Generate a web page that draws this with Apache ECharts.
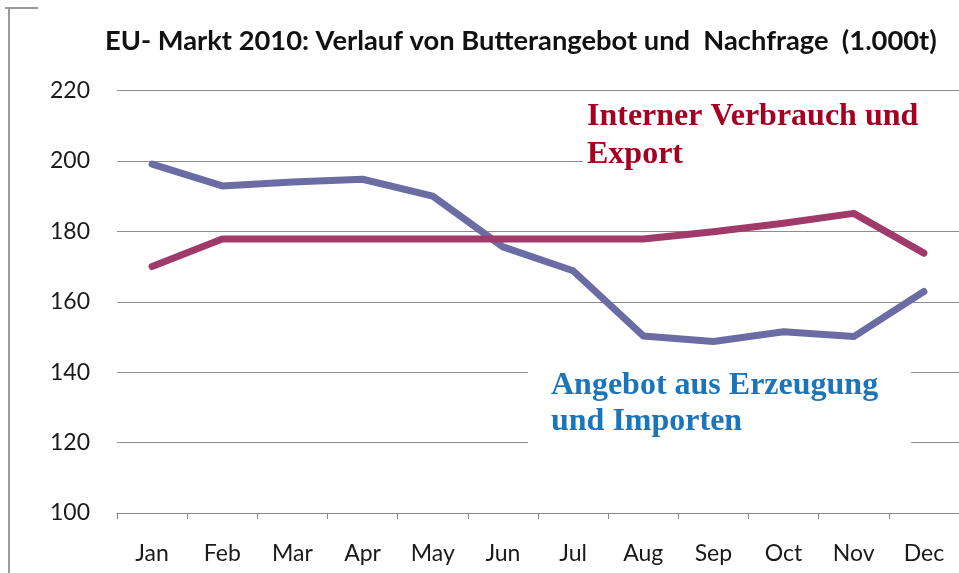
<!DOCTYPE html>
<html>
<head>
<meta charset="utf-8">
<script src="https://cdn.jsdelivr.net/npm/echarts@6/dist/echarts.min.js"></script>
<style>html,body{margin:0;padding:0;background:#fff}#c{width:959px;height:573px}</style>
</head>
<body>
<div id="c"></div>
<script>
const months = ['Jan','Feb','Mar','Apr','May','Jun','Jul','Aug','Sep','Oct','Nov','Dec'];
const angebot = [199.1, 192.9, 194, 194.8, 190, 175.6, 168.8, 150.3, 148.7, 151.5, 150.1, 162.9];
const verbrauch = [170, 177.8, 177.8, 177.8, 177.8, 177.8, 177.8, 177.8, 179.9, 182.3, 185.1, 173.8];
const yTicks = {min: 100, max: 220, interval: 20};
const titleText = 'EU- Markt 2010: Verlauf von Butterangebot und  Nachfrage  (1.000t)';
const redLabel = 'Interner Verbrauch und\nExport';
const blueLabel = 'Angebot aus Erzeugung\nund Importen';

const chart = echarts.init(document.getElementById('c'), null, {renderer: 'canvas'});
chart.setOption({
  animation: false,
  backgroundColor: '#fff',
  title: [
    {text: titleText, left: 100, top: 23,
     textStyle: {fontFamily: 'Lato', fontWeight: 'bold', fontSize: 27.3, color: '#111'}},
    {text: redLabel, left: 583, top: 94, backgroundColor: '#fff', padding: [4, 100, 4, 4],
     textStyle: {fontFamily: 'Liberation Serif', fontWeight: 'bold', fontSize: 32, lineHeight: 38, color: '#a50021'}},
    {text: blueLabel, left: 528, top: 360, backgroundColor: '#fff', padding: [8, 33, 8, 23],
     textStyle: {fontFamily: 'Liberation Serif', fontWeight: 'bold', fontSize: 32, lineHeight: 36, color: '#1b75bb'}}
  ],
  graphic: [
    {type: 'line', shape: {x1: 9, y1: 7, x2: 9, y2: 573}, style: {stroke: '#9a9a9a', lineWidth: 2}},
    {type: 'line', shape: {x1: 5, y1: 8, x2: 38, y2: 8}, style: {stroke: '#9a9a9a', lineWidth: 2}}
  ],
  grid: {left: 117, right: -10, top: 90.5, bottom: 60, containLabel: false},
  xAxis: {
    type: 'category', data: months, boundaryGap: true,
    axisLine: {lineStyle: {color: '#868686', width: 1}},
    axisTick: {show: true, length: 6, lineStyle: {color: '#868686'}},
    axisLabel: {fontFamily: 'Lato', fontSize: 23, color: '#1a1a1a', margin: 29}
  },
  yAxis: {
    type: 'value', min: yTicks.min, max: yTicks.max, interval: yTicks.interval,
    axisLine: {show: false}, axisTick: {show: false},
    splitLine: {lineStyle: {color: '#8c8c8c', width: 1}},
    axisLabel: {fontFamily: 'Lato', fontSize: 23, color: '#1a1a1a', margin: 27}
  },
  series: [
    {type: 'line', data: angebot, symbol: 'none', lineStyle: {color: '#6a6ca3', width: 7, cap: 'round', join: 'round'}, z: 3},
    {type: 'line', data: verbrauch, symbol: 'none', lineStyle: {color: '#a03a6a', width: 7, cap: 'round', join: 'round'}, z: 3}
  ]
});
</script>
</body>
</html>
